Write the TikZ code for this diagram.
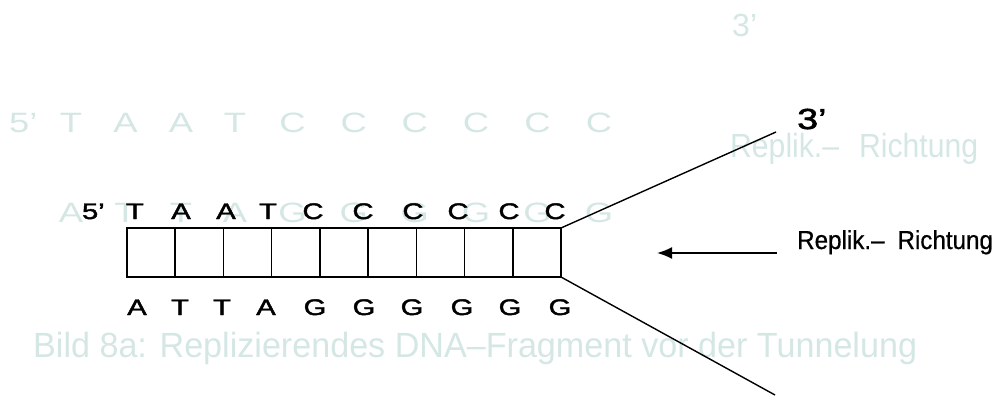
\documentclass[tikz,border=0pt]{standalone}
\usepackage{fontspec}
\setmainfont{Liberation Sans}
\newfontfamily\wideb[FakeStretch=1.3,FakeBold=2]{Liberation Sans}
\newfontfamily\widef[FakeStretch=1.3]{Liberation Sans}
\newfontfamily\narrowf[FakeStretch=0.9]{Liberation Sans}
\newfontfamily\labf[FakeStretch=0.93,FakeBold=0.6]{Liberation Sans}
\newfontfamily\capf[FakeStretch=0.975]{Liberation Sans}
\usetikzlibrary{arrows.meta}
\definecolor{faint}{RGB}{212,231,228}
\begin{document}
\begin{tikzpicture}[x=1pt,y=-1pt,
  bk/.style={font=\wideb\fontsize{22.5}{22.5}\selectfont, anchor=base, inner sep=0pt},
  fb/.style={font=\widef\fontsize{28}{28}\selectfont, text=faint, anchor=base, inner sep=0pt},
  fs/.style={text=faint, anchor=base west, inner sep=0pt},
  cell/.style={draw, line width=1.6pt, minimum width=48.222pt, minimum height=49pt, inner sep=0pt, outer sep=0pt},
  strand/.style={line width=1.4pt},
  arr/.style={line width=1.8pt, -{Latex[length=15pt,width=12pt]}}]
\useasboundingbox (0,0) rectangle (1000,401);
% ---- faint background texts ----
\node[fs, font=\fontsize{32}{32}\selectfont] (f3) at (732,37) {3’};
\node[fs, font=\narrowf\fontsize{33.5}{34}\selectfont] (frep) at (730,157) {Replik.–\hspace{0.6em}Richtung};
\node[fs, font=\capf\fontsize{35}{36}\selectfont] (cap) at (33,357) {Bild 8a: Replizierendes DNA–Fragment vor der Tunnelung};
\node[fs, font=\widef\fontsize{28}{28}\selectfont] (f5) at (9,132) {5’};
\foreach \x/\t [count=\i] in {71/T,125.5/A,181/A,235/T,292.5/C,353.8/C,414.8/C,476/C,537.5/C,599/C}
  \node[fb] (ft\i) at (\x,132) {\t};
\foreach \x/\t [count=\i] in {71/A,125.5/T,181/T,235/A,292.5/G,353.8/G,414.8/G,476/G,537.5/G,599/G}
  \node[fb] (fbm\i) at (\x,222) {\t};
% ---- ladder ----
\foreach \i in {1,...,9}
  \node[cell] (c\i) at ({127+48.222*(\i-0.5)},252.5) {};
\coordinate (u) at (776,132);
\coordinate (d) at (775,395);
\draw[strand] (c9.north east) -- (u);
\draw[strand] (c9.south east) -- (d);
% ---- letters ----
\node[bk, anchor=base east] (p5) at (105,219) {5’};
\foreach \x/\t [count=\i] in {135/T,181/A,226/A,268/T,313/C,363/C,413/C,458/C,509/C,555/C}
  \node[bk] (t\i) at (\x,219) {\t};
\foreach \x/\t [count=\i] in {137/A,180/T,222/T,266/A,315/G,364/G,412/G,462/G,510/G,560/G}
  \node[bk] (b\i) at (\x,315) {\t};
\node[bk, anchor=base west, font=\wideb\fontsize{29}{29}\selectfont] (p3) at (797,129) {3’};
% ---- arrow and label ----
\coordinate (a1) at (777,253);
\coordinate (a2) at (657,253);
\draw[arr] (a1) -- (a2);
\node[anchor=base west, inner sep=0pt, font=\labf\fontsize{26}{26}\selectfont] (lab) at (797,249) {Replik.–\hspace{0.5em}Richtung};
\end{tikzpicture}
\end{document}
